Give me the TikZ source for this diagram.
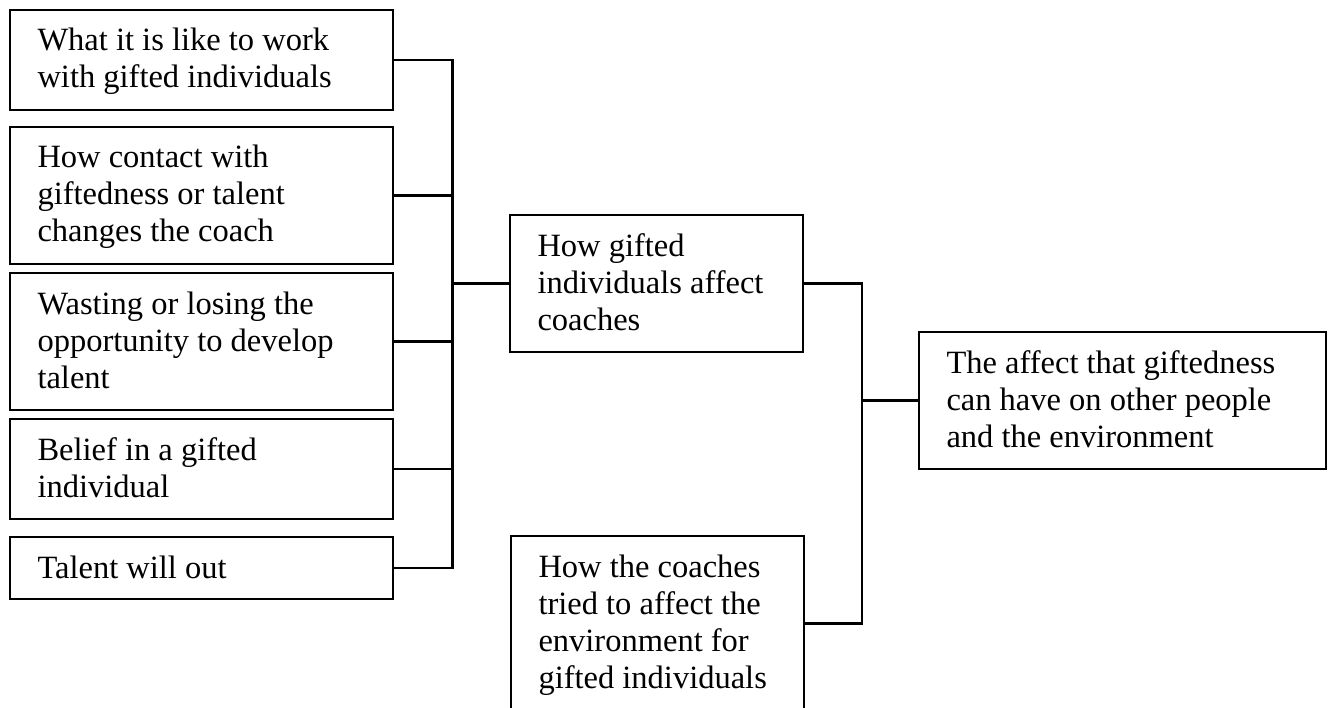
\documentclass[tikz,border=0pt]{standalone}
\usepackage{fontspec}
\setmainfont{Liberation Serif}
\newcommand{\tstr}{\rule{0pt}{26pt}}
\newcommand{\bstr}{\rule[-6pt]{0pt}{1pt}}
\begin{document}
\begin{tikzpicture}[x=1pt,y=-1pt,
  topic/.style={draw, line width=2.1pt, inner xsep=27.5pt, inner ysep=0pt,
    align=flush left, font=\fontsize{32.5}{37}\selectfont},
  leftbox/.style={topic, text width=328pt},
  midbox/.style={topic, text width=238pt},
  rightbox/.style={topic, text width=352pt},
  link/.style={line width=2.1pt}]
\useasboundingbox (0,0) rectangle (1335,707);

% first-level topics
\node[leftbox, minimum height=100pt] (b1) at (201.5,60)
  {\tstr What it is like to work\\with gifted individuals\bstr};
\node[leftbox, minimum height=137pt] (b2) at (201.5,195.5)
  {\tstr How contact with\\giftedness or talent\\changes the coach\bstr};
\node[leftbox, minimum height=137pt] (b3) at (201.5,341.5)
  {\tstr Wasting or losing the\\opportunity to develop\\talent\bstr};
\node[leftbox, minimum height=100pt] (b4) at (201.5,469)
  {\tstr Belief in a gifted\\individual\bstr};
\node[leftbox, minimum height=62pt] (b5) at (201.5,568)
  {\tstr Talent will out\bstr};

% second-level topics
\node[midbox, minimum height=137pt] (m1) at (656.5,283.5)
  {\tstr How gifted\\individuals affect\\coaches\bstr};
\node[midbox, minimum height=175pt] (m2) at (657.5,623.5)
  {\tstr How the coaches\\tried to affect the\\environment for\\gifted individuals\bstr};

% overall theme
\node[rightbox, minimum height=137pt] (r) at (1122.5,400.5)
  {\tstr The affect that giftedness\\can have on other people\\and the environment\bstr};

% bracket junctions
\coordinate (jL) at (452.5,283.5);
\coordinate (jR) at (862,400.5);

\foreach \n in {b1,b2,b3,b4,b5}
  \draw[link] (\n.east) -| (jL);
\draw[link] (jL) -- (m1.west);
\draw[link] (m1.east) -| (jR);
\draw[link] (m2.east) -| (jR);
\draw[link] (jR) -- (r.west);
\end{tikzpicture}
\end{document}
